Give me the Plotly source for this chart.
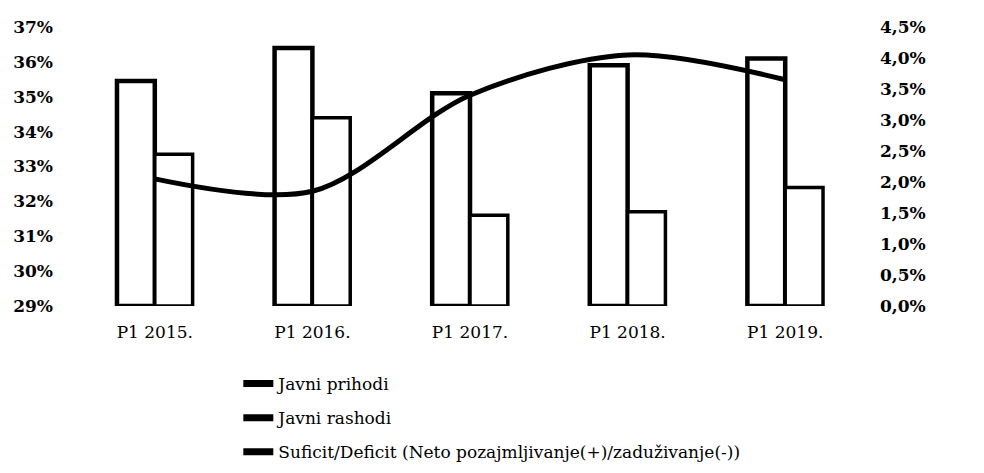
import plotly.graph_objects as go

categories = ["P1 2015.", "P1 2016.", "P1 2017.", "P1 2018.", "P1 2019."]
javni_prihodi = [35.45, 36.4, 35.1, 35.9, 36.1]
javni_rashodi = [33.35, 34.4, 31.6, 31.7, 32.4]
suficit_deficit = [2.05, 1.85, 3.4, 4.05, 3.65]

left_base = 29
left_ticks = [29, 30, 31, 32, 33, 34, 35, 36, 37]
left_labels = ["29%", "30%", "31%", "32%", "33%", "34%", "35%", "36%", "37%"]
right_ticks = [0, 0.5, 1.0, 1.5, 2.0, 2.5, 3.0, 3.5, 4.0, 4.5]
right_labels = ["0,0%", "0,5%", "1,0%", "1,5%", "2,0%", "2,5%", "3,0%", "3,5%", "4,0%", "4,5%"]

FONT = "DejaVu Serif"

fig = go.Figure()
fig.add_trace(go.Bar(
    x=categories, y=[v - left_base for v in javni_prihodi], base=left_base,
    marker=dict(color="white", line=dict(color="black", width=4.5)),
    name="Javni prihodi", showlegend=False))
fig.add_trace(go.Bar(
    x=categories, y=[v - left_base for v in javni_rashodi], base=left_base,
    marker=dict(color="white", line=dict(color="black", width=3.5)),
    name="Javni rashodi", showlegend=False))
fig.add_trace(go.Scatter(
    x=categories, y=suficit_deficit, yaxis="y2", mode="lines",
    line=dict(color="black", width=5, shape="spline", smoothing=0.9),
    name="Suficit/Deficit (Neto pozajmljivanje(+)/zaduživanje(-))",
    showlegend=False))

# legend entries (symbols drawn as thick lines like the reference)
for nm, grp in [("Javni prihodi", "a"), ("Javni rashodi", "b"),
                ("Suficit/Deficit (Neto pozajmljivanje(+)/zaduživanje(-))", "c")]:
    fig.add_trace(go.Scatter(x=[None], y=[None], mode="lines",
                             line=dict(color="black", width=7),
                             name=nm, legendgroup=grp, showlegend=True))

fig.update_layout(
    width=976, height=465, autosize=False,
    margin=dict(l=68, r=120, t=19, b=167, autoexpand=False),
    plot_bgcolor="white", paper_bgcolor="white",
    barmode="group", bargap=0.52, bargroupgap=0,
    font=dict(family=FONT, color="black", size=17),
    xaxis=dict(showgrid=False, showline=False, ticks="", zeroline=False,
               ticklabelstandoff=14, automargin=False,
               tickfont=dict(family=FONT, size=17, color="black")),
    yaxis=dict(range=[29, 37], tickmode="array", tickvals=left_ticks, ticktext=left_labels,
               showgrid=False, zeroline=False, showline=False, ticklabelstandoff=22,
               automargin=False,
               tickfont=dict(family=FONT, size=17, color="black", weight="bold")),
    yaxis2=dict(range=[0, 4.5], tickmode="array", tickvals=right_ticks, ticktext=right_labels,
                overlaying="y", side="right", showgrid=False, zeroline=False,
                showline=False, ticklabelstandoff=15, automargin=False,
                tickfont=dict(family=FONT, size=17, color="black", weight="bold")),
    legend=dict(x=0.206, xanchor="left", xref="paper",
                y=0.23, yanchor="top", yref="container",
                orientation="v", tracegroupgap=9,
                font=dict(family=FONT, size=17, color="black"),
                bgcolor="rgba(0,0,0,0)"),
)

fig.write_html("out.html")
